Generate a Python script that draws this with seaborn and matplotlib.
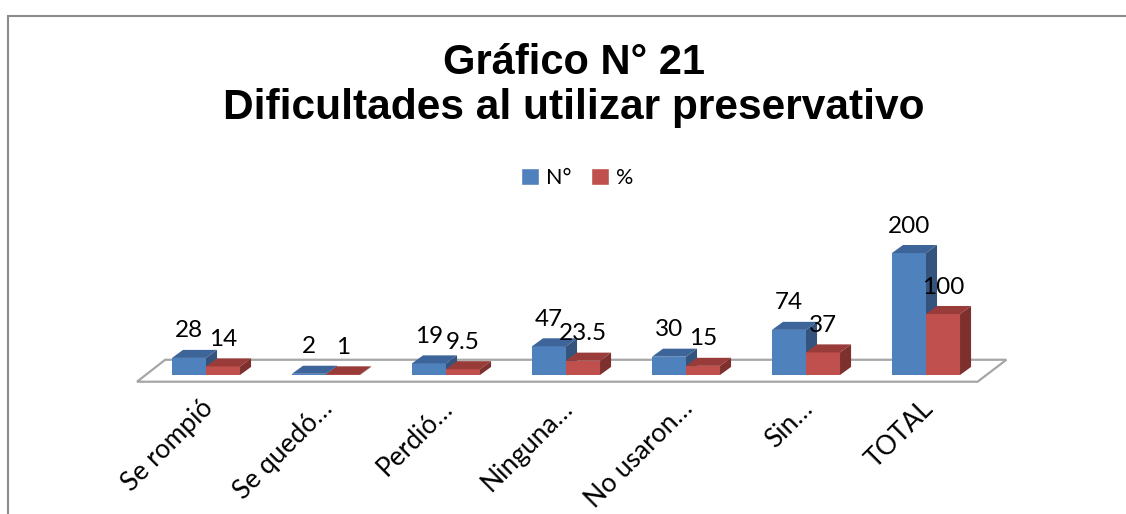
import pandas as pd
import seaborn as sns
import matplotlib.pyplot as plt
from matplotlib.patches import Polygon, Patch
from matplotlib.lines import Line2D

# datos
categorias = ['Se rompió', 'Se quedó…', 'Perdió…', 'Ninguna…', 'No usaron…', 'Sin…', 'TOTAL']
numero = [28, 2, 19, 47, 30, 74, 200]
porcentaje = [14, 1, 9.5, 23.5, 15, 37, 100]
series = ['N°', '%']

df = pd.DataFrame({
    'cat': categorias * 2,
    'serie': [series[0]] * len(categorias) + [series[1]] * len(categorias),
    'valor': numero + porcentaje,
})

sns.set_style('white')
plt.rcParams['font.family'] = ['Lato', 'DejaVu Sans']
plt.rcParams['text.color'] = 'black'

frente = {'N°': '#4F81BD', '%': '#C0504D'}
arriba = {'N°': '#3E659A', '%': '#993B39'}
lado = {'N°': '#34547E', '%': '#7E302E'}

fig = plt.figure(figsize=(11.26, 5.14), dpi=100)
ax = fig.add_axes([146 / 1126, (514 - 375) / 514, 840 / 1126, 175 / 514])

sns.barplot(data=df, x='cat', y='valor', hue='serie', hue_order=series,
            palette=frente, width=0.567, saturation=1, legend=False, ax=ax)

ax.set_xlim(-0.5, 6.5)
ax.set_ylim(0, 287)
ax.axis('off')

# profundidad (efecto 3D)
dx, dy = 0.092, 13.2

# piso
piso = Polygon([(-0.575, -11), (6.43, -11), (6.67, 25), (-0.34, 25)], closed=True,
               facecolor='white', edgecolor='#A6A6A6', lw=1.6, zorder=1, clip_on=False)
ax.add_patch(piso)

n = len(categorias)
for k, s in enumerate(series):
    for j, p in enumerate(ax.patches[k * n:(k + 1) * n]):
        x0, w, h = p.get_x(), p.get_width(), p.get_height()
        z = 2 + k
        p.set_zorder(z)
        p.set_edgecolor('none')
        top = Polygon([(x0, h), (x0 + w, h), (x0 + w + dx, h + dy), (x0 + dx, h + dy)],
                      facecolor=arriba[s], edgecolor='none', zorder=z + 0.1)
        side = Polygon([(x0 + w, 0), (x0 + w + dx, dy), (x0 + w + dx, h + dy), (x0 + w, h)],
                       facecolor=lado[s], edgecolor='none', zorder=z + 0.1)
        ax.add_patch(top)
        ax.add_patch(side)
        ax.text(x0 + w / 2, h + dy + 31, f'{h:g}', ha='center', va='center',
                fontsize=17.5, color='black', zorder=10, clip_on=False)

# etiquetas del eje x
for i, c in enumerate(categorias):
    ax.text(i + 0.07, -57, c, ha='right', va='baseline', rotation=45,
            rotation_mode='anchor', fontsize=19, color='black', clip_on=False)

# titulo
fig.text(574 / 1126, 1 - 63 / 514, 'Gráfico N° 21', ha='center', va='center',
         fontsize=30, fontweight='bold', family='Liberation Sans', color='black')
fig.text(574 / 1126, 1 - 108 / 514, 'Dificultades al utilizar preservativo', ha='center',
         va='center', fontsize=30.6, fontweight='bold', family='Liberation Sans', color='black')

# leyenda
handles = [Patch(facecolor=frente[s], label=s) for s in series]
ax.legend(handles=handles, loc='center', bbox_to_anchor=(577 / 1126, 1 - 178 / 514),
          bbox_transform=fig.transFigure, frameon=False, ncol=2, fontsize=15.5,
          handlelength=0.85, handleheight=0.85, handletextpad=0.3, columnspacing=0.9)

# marco
fig.add_artist(Line2D([8 / 1126, 8 / 1126], [0, 1 - 16 / 514], color='#8C8C8C', lw=1.5,
                      transform=fig.transFigure))
fig.add_artist(Line2D([8 / 1126, 1], [1 - 16 / 514, 1 - 16 / 514], color='#8C8C8C', lw=1.5,
                      transform=fig.transFigure))

fig.savefig('out.png', dpi=100)
